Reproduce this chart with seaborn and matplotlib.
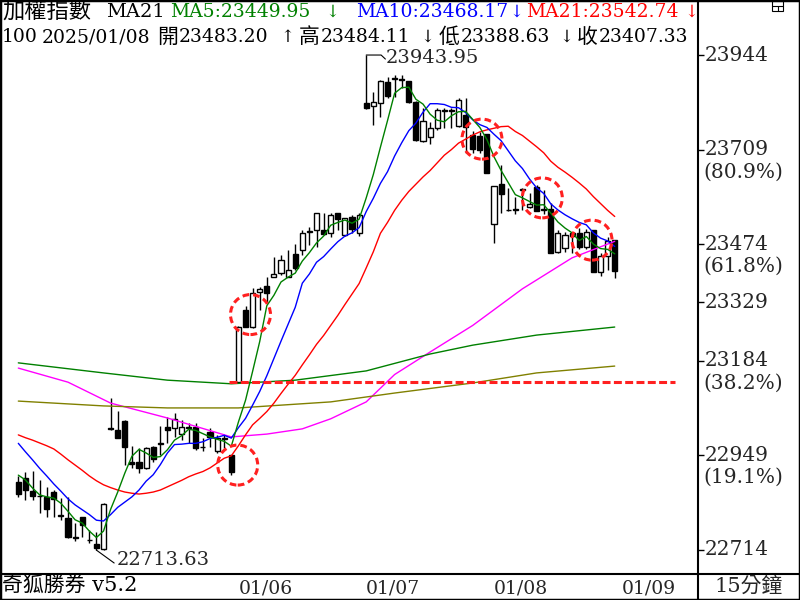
import numpy as np
import pandas as pd
import matplotlib.pyplot as plt
import seaborn as sns
from matplotlib.patches import Ellipse, Rectangle
from matplotlib.lines import Line2D

sns.set_style('white')
plt.rcParams['font.family'] = ['DejaVu Serif', 'Noto Sans CJK TC', 'DejaVu Sans']

# 15 min candles, 2025/01/02 (part) .. 2025/01/08
opens = [22884, 22892, 22861, 22849, 22845, 22859, 22800, 22794, 22746, 22795,
         22740, 22729, 22716, 23018, 23012, 23035, 22932, 22932, 22917, 22969,
         22978, 23019, 23016, 23002, 23018, 23020, 22969, 23008, 22960, 22990,
         22950, 23131, 23310, 23269, 23354, 23370, 23393, 23403, 23393, 23450,
         23459, 23504, 23509, 23509, 23501, 23551, 23497, 23541, 23501, 23824,
         23817, 23824, 23878, 23884, 23885, 23879, 23828, 23731, 23741, 23762,
         23806, 23808, 23768, 23795, 23745, 23743, 23747, 23523, 23624, 23560,
         23561, 23608, 23567, 23617, 23560, 23561, 23455, 23464, 23501, 23501,
         23466, 23509, 23406, 23445, 23483.20]
highs = [22899, 22909, 22910, 22888, 22871, 22863, 22843, 22846, 22782, 22797,
         22764, 22759, 22830, 23091, 23059, 23036, 22972, 22968, 22971, 22972,
         23022, 23044, 23055, 23037, 23029, 23029, 22992, 23016, 23000, 23000,
         22951, 23270, 23320, 23366, 23367, 23392, 23441, 23447, 23459, 23474,
         23509, 23517, 23551, 23551, 23551, 23552, 23539, 23546, 23551, 23943.95,
         23853, 23882, 23889, 23894, 23894, 23880, 23829, 23812, 23778, 23812,
         23812, 23812, 23836, 23836, 23756, 23753, 23748, 23619, 23671, 23614,
         23592, 23613, 23600, 23621, 23608, 23576, 23509, 23505, 23502, 23513,
         23512, 23510, 23451, 23491, 23484.11]
lows = [22846, 22838, 22838, 22805, 22797, 22797, 22789, 22743, 22737, 22747,
        22731, 22713.63, 22714, 23012, 22992, 22925, 22917, 22905, 22914, 22933,
        22950, 22979, 22996, 22987, 22979, 22962, 22961, 22971, 22954, 22967,
        22900, 23130, 23268, 23265, 23310, 23327, 23392, 23397, 23392, 23410,
        23447, 23472, 23468, 23497, 23491, 23509, 23493, 23501, 23494, 23810,
        23770, 23791, 23836, 23840, 23861, 23824, 23731, 23729, 23723, 23758,
        23762, 23762, 23764, 23700, 23700, 23700, 23650, 23476, 23552, 23556,
        23549, 23559, 23563, 23556, 23549, 23451, 23451, 23455, 23451, 23463,
        23462, 23404, 23395, 23410, 23388.63]
closes = [22852, 22863, 22849, 22847, 22817, 22841, 22798, 22747, 22744, 22776,
          22738, 22718, 22828, 23014, 22993, 22971, 22927, 22917, 22967, 22940,
          22980, 23011, 23039, 23019, 23020, 22967, 22971, 22996, 22992, 22992,
          22909, 23269, 23269, 23353, 23362, 23353, 23399, 23435, 23410, 23414,
          23502, 23506, 23551, 23499, 23546, 23536, 23538, 23512, 23546, 23813,
          23826, 23879, 23842, 23886, 23883, 23828, 23733, 23781, 23762, 23807,
          23808, 23806, 23832, 23766, 23710, 23708, 23652, 23619, 23598, 23558,
          23559, 23610, 23573, 23557, 23562, 23453, 23501, 23497, 23495, 23468,
          23503, 23406, 23445, 23482, 23407.33]

ma5 = [22900, 22888, 22868, 22851, 22846, 22843, 22830, 22810, 22789, 22781,
       22761, 22745, 22761, 22815, 22858, 22905, 22947, 22964, 22955, 22944,
       22946, 22963, 22987, 22998, 23014, 23011, 23003, 22995, 22989, 22984,
       22972, 23032, 23086, 23158, 23232, 23321, 23347, 23380, 23392, 23402,
       23432, 23453, 23477, 23494, 23521, 23528, 23534, 23526, 23536, 23589,
       23647, 23715, 23781, 23849, 23863, 23864, 23834, 23822, 23797, 23782,
       23778, 23793, 23803, 23804, 23784, 23764, 23734, 23691, 23657, 23627,
       23597, 23589, 23580, 23571, 23572, 23551, 23529, 23514, 23502, 23483,
       23493, 23474, 23463, 23461, 23449.95]
ma10 = [22979, 22958, 22938, 22917, 22898, 22878, 22860, 22841, 22826, 22814,
        22802, 22788, 22786, 22802, 22820, 22833, 22846, 22863, 22885, 22901,
        22926, 22955, 22976, 22977, 22979, 22979, 22983, 22991, 22994, 22999,
        22992, 23018, 23041, 23074, 23108, 23147, 23190, 23233, 23275, 23317,
        23377, 23400, 23429, 23443, 23462, 23480, 23494, 23502, 23515, 23555,
        23588, 23625, 23654, 23693, 23726, 23756, 23775, 23802, 23823, 23823,
        23821, 23814, 23813, 23801, 23783, 23771, 23764, 23747, 23731, 23706,
        23681, 23662, 23636, 23614, 23600, 23574, 23559, 23547, 23537, 23528,
        23522, 23502, 23489, 23482, 23468.17]
ma21 = [23000, 22993, 22987, 22980, 22973, 22965, 22952, 22938, 22925, 22912,
        22898, 22886, 22876, 22869, 22863, 22858, 22855, 22853, 22855, 22858,
        22863, 22871, 22879, 22887, 22896, 22903, 22909, 22918, 22930, 22942,
        22948, 22973, 23000, 23025, 23041, 23058, 23079, 23103, 23126, 23148,
        23174, 23199, 23225, 23247, 23272, 23297, 23324, 23350, 23376, 23415,
        23455, 23501, 23528, 23558, 23583, 23605, 23623, 23641, 23657, 23676,
        23695, 23709, 23725, 23735, 23745, 23753, 23758, 23762, 23766, 23767,
        23754, 23744, 23730, 23716, 23701, 23680, 23665, 23653, 23640, 23626,
        23611, 23592, 23575, 23558, 23542.74]

# long averages (read at a few bars)
magenta_idx = [0, 7, 13, 21, 30, 35, 40, 44, 49, 53, 58, 64, 71, 78, 84]
magenta_val = [23166, 23131, 23079, 23042, 22995, 23002, 23015, 23040, 23082,
               23150, 23206, 23272, 23363, 23440, 23481]
green_idx = [0, 12, 21, 30, 39, 49, 58, 64, 73, 84]
green_val = [23179, 23154, 23136, 23127, 23136, 23159, 23201, 23223, 23248, 23268]
olive_idx = [0, 12, 21, 31, 44, 53, 64, 73, 84]
olive_val = [23084, 23072, 23067, 23067, 23082, 23104, 23129, 23154, 23171]

dates = ['01/06', '01/07', '01/08', '01/09']
date_idx = [31, 49, 67, 85]

fib_prices = [23944, 23709, 23474, 23329, 23184, 22949, 22714]
fib_pcts = ['', '(80.9%)', '(61.8%)', '', '(38.2%)', '(19.1%)', '']

gap_price = 23131
circle_idx = [30.9, 32.7, 65.3, 73.8, 80.8]
circle_price = [22925, 23299, 23735, 23589, 23484]

# ---- figure
fig = plt.figure(figsize=(8, 6), dpi=100)
ax = fig.add_axes([0, 27/600, 698/800, 573/600])
ax.set_xlim(-2.58, 95.73)
ax.set_ylim(22656.8, 24080.7)
for s in ax.spines.values():
    s.set_visible(False)

idx = np.arange(len(opens))
o = np.array(opens); h = np.array(highs); l = np.array(lows); c = np.array(closes)
up = c >= o

ax.vlines(idx, l, h, color='black', lw=1.0, zorder=2)
ax.bar(idx[up], (c - o)[up], bottom=o[up], width=0.72, color='white',
       edgecolor='black', linewidth=1.0, zorder=3)
ax.bar(idx[~up], (o - c)[~up], bottom=c[~up], width=0.72, color='black',
       edgecolor='black', linewidth=1.0, zorder=3)

df_ma = pd.DataFrame({'idx': idx, 'ma5': ma5, 'ma10': ma10, 'ma21': ma21})
sns.lineplot(x=magenta_idx, y=magenta_val, ax=ax, color='#ff00ff', lw=1, zorder=4)
sns.lineplot(x=green_idx, y=green_val, ax=ax, color='#008000', lw=1, zorder=4)
sns.lineplot(x=olive_idx, y=olive_val, ax=ax, color='#808000', lw=1, zorder=4)
sns.lineplot(data=df_ma, x='idx', y='ma21', ax=ax, color='#ff0000', lw=1, zorder=4)
sns.lineplot(data=df_ma, x='idx', y='ma10', ax=ax, color='#0000ff', lw=1, zorder=4)
sns.lineplot(data=df_ma, x='idx', y='ma5', ax=ax, color='#008000', lw=1, zorder=4)
ax.set_xlabel('')
ax.set_ylabel('')

# gap line and circles
ax.hlines(gap_price, 29.7, 92.5, color='#ff2020', lw=2.2,
          linestyles=(0, (2.6, 1.1)), zorder=5)
for ci, cp in zip(circle_idx, circle_price):
    ax.add_patch(Ellipse((ci, cp), 2*20/7.1, 2*20*2.485, fill=False,
                         edgecolor='#ff2020', lw=2.2, linestyle=(0, (2.2, 1.3)),
                         zorder=6))

# high / low labels
hi_i = int(np.argmax(h)); lo_i = int(np.argmin(l))
ax.plot([hi_i, hi_i + 2.1, hi_i + 2.7], [h[hi_i], h[hi_i], h[hi_i] - 10],
        color='black', lw=0.8, zorder=5)
ax.text(hi_i + 2.8, h[hi_i] - 8, f'{h[hi_i]:.2f}', fontsize=14,
        ha='left', va='center', zorder=6)
ax.plot([lo_i, lo_i + 2.5], [l[lo_i], l[lo_i] - 32], color='black', lw=0.8, zorder=5)
ax.text(lo_i + 2.9, l[lo_i] - 25, f'{l[lo_i]:.2f}', fontsize=14,
        ha='left', va='center', zorder=6)

# right price axis
ax.yaxis.tick_right()
ax.set_yticks(fib_prices)
ax.set_yticklabels([])
ax.tick_params(axis='y', direction='out', length=4, width=1, color='black')
for p, pct in zip(fib_prices, fib_pcts):
    ax.annotate(str(p), xy=(1, p), xycoords=('axes fraction', 'data'),
                xytext=(5, 0), textcoords='offset points', ha='left',
                va='center', fontsize=14.5)
    if pct:
        ax.annotate(pct, xy=(1, p), xycoords=('axes fraction', 'data'),
                    xytext=(4, -16), textcoords='offset points', ha='left',
                    va='center', fontsize=14.5)

# date axis
ax.set_xticks(date_idx)
ax.set_xticklabels(dates, ha='left', fontsize=13.5)
ax.tick_params(axis='x', direction='out', length=4, width=1, color='black', pad=1)

# header
def ftxt(x, y, s, color='black', size=13.5):
    fig.text(x/800, 1 - y/600, s, color=color, fontsize=size, ha='left', va='center')

ftxt(2, 12, '加權指數', size=16)
ftxt(106, 12, 'MA21', size=14)
ftxt(170, 12, 'MA5:23449.95', '#008000')
ftxt(325, 12, '↓', '#008000', 12)
ftxt(356, 12, 'MA10:23468.17', '#0000ff')
ftxt(509, 12, '↓', '#0000ff', 12)
ftxt(526, 12, 'MA21:23542.74', '#ff0000')
ftxt(684, 12, '↓', '#ff0000', 12)
ftxt(2, 37, '100')
ftxt(42, 37, '2025/01/08')
ftxt(157, 37, '開', size=15)
ftxt(179, 37, '23483.20')
ftxt(280, 37, '↑', size=12)
ftxt(299, 37, '高', size=15)
ftxt(321, 37, '23484.11')
ftxt(420, 37, '↓', size=12)
ftxt(439, 37, '低', size=15)
ftxt(461, 37, '23388.63')
ftxt(559, 37, '↓', size=12)
ftxt(577, 37, '收', size=15)
ftxt(599, 37, '23407.33')

# bottom strip texts
ftxt(2, 586, '奇狐勝券 v5.2', size=15)
fig.text(749/800, 1 - 586/600, '15分鐘', fontsize=15, ha='center', va='center')

# frame lines
def fline(x0, y0, x1, y1, lw=1.5):
    fig.add_artist(Line2D([x0/800, x1/800], [1 - y0/600, 1 - y1/600],
                          color='black', lw=lw))

fline(698, 0, 698, 600)
fline(0, 573.5, 800, 573.5)
fig.add_artist(Rectangle((0, 0), 1, 1, transform=fig.transFigure, fill=False,
                         edgecolor='black', lw=2.5))
# small window icon top right
fig.add_artist(Rectangle((772/800, 1 - 11/600), 11/800, 10/600,
                         transform=fig.transFigure, fill=False, edgecolor='black', lw=0.8))
fline(772, 5.5, 783, 5.5, lw=0.8)
fline(777.5, 5.5, 777.5, 11, lw=0.8)

plt.savefig('out.png', dpi=100)
